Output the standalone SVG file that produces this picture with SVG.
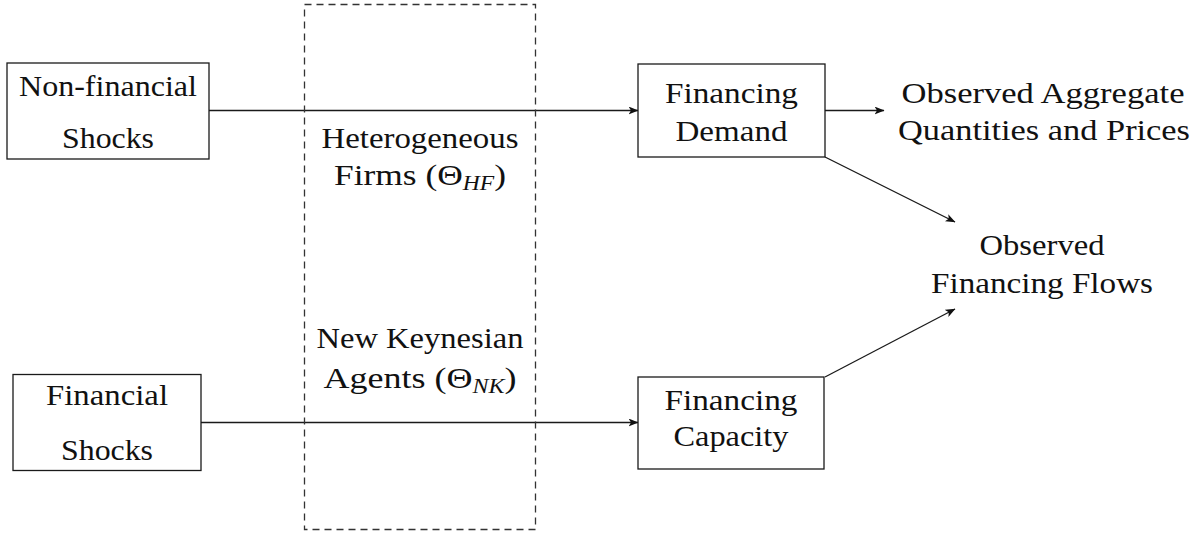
<svg xmlns="http://www.w3.org/2000/svg" width="1203" height="536" viewBox="0 0 1203 536">
<style>
.box{fill:#fff;stroke:#1a1a1a;stroke-width:1.3}
.t{font-family:'Liberation Serif','DejaVu Serif','Noto Serif',serif;font-size:30px;fill:#111;text-anchor:middle}
.sub{font-size:20px;font-style:italic}
.c{stroke:#1a1a1a;stroke-width:1.3;fill:none;marker-end:url(#ah)}
.dash{fill:none;stroke:#333;stroke-width:1.3;stroke-dasharray:7 5}
</style>
<defs>
<marker id="ah" viewBox="0 0 10 8" refX="9.5" refY="4" markerWidth="10" markerHeight="8" markerUnits="userSpaceOnUse" orient="auto">
<path d="M0,0 L10,4 L0,8 L2.5,4 Z" fill="#111"/>
</marker>
</defs>
<rect width="1203" height="536" fill="#fff"/>
<g id="connectors">
<line class="c" x1="209" y1="110.5" x2="638" y2="110.5"/>
<line class="c" x1="201" y1="422.5" x2="638" y2="422.5"/>
<line class="c" x1="825" y1="110.5" x2="884" y2="110.5"/>
<line class="c" x1="825" y1="157" x2="955" y2="222"/>
<line class="c" x1="825" y1="377" x2="955" y2="309"/>
</g>
<g id="model-box">
<rect class="dash" x="304.5" y="4.5" width="231" height="525"/>
</g>
<g font-family="Liberation Serif, DejaVu Serif, serif">
<g id="heterogeneous-firms">
<text class="t" x="420" y="148" textLength="197" lengthAdjust="spacingAndGlyphs">Heterogeneous</text>
<text class="t" x="420" y="185" textLength="172" lengthAdjust="spacingAndGlyphs">Firms (Θ<tspan class="sub" dy="5">HF</tspan><tspan dy="-5">)</tspan></text>
</g>
<g id="new-keynesian-agents">
<text class="t" x="420" y="348" textLength="207" lengthAdjust="spacingAndGlyphs">New Keynesian</text>
<text class="t" x="420" y="388" textLength="193" lengthAdjust="spacingAndGlyphs">Agents (Θ<tspan class="sub" dy="5">NK</tspan><tspan dy="-5">)</tspan></text>
</g>
<g id="non-financial-shocks">
<rect class="box" x="7" y="63" width="202" height="96"/>
<text class="t" x="108" y="96" textLength="178" lengthAdjust="spacingAndGlyphs">Non-financial</text>
<text class="t" x="108" y="148" textLength="92" lengthAdjust="spacingAndGlyphs">Shocks</text>
</g>
<g id="financial-shocks">
<rect class="box" x="13" y="374.5" width="188" height="96"/>
<text class="t" x="107" y="405" textLength="122" lengthAdjust="spacingAndGlyphs">Financial</text>
<text class="t" x="107" y="460" textLength="92" lengthAdjust="spacingAndGlyphs">Shocks</text>
</g>
<g id="financing-demand">
<rect class="box" x="638" y="64" width="187" height="93"/>
<text class="t" x="731.5" y="103" textLength="133" lengthAdjust="spacingAndGlyphs">Financing</text>
<text class="t" x="731.5" y="141" textLength="112" lengthAdjust="spacingAndGlyphs">Demand</text>
</g>
<g id="financing-capacity">
<rect class="box" x="638" y="377" width="186" height="92"/>
<text class="t" x="731" y="410" textLength="133" lengthAdjust="spacingAndGlyphs">Financing</text>
<text class="t" x="731" y="446" textLength="115" lengthAdjust="spacingAndGlyphs">Capacity</text>
</g>
<g id="observed-aggregate">
<text class="t" x="1043" y="103" textLength="283" lengthAdjust="spacingAndGlyphs">Observed Aggregate</text>
<text class="t" x="1044" y="140" textLength="292" lengthAdjust="spacingAndGlyphs">Quantities and Prices</text>
</g>
<g id="observed-financing-flows">
<text class="t" x="1042" y="255" textLength="125" lengthAdjust="spacingAndGlyphs">Observed</text>
<text class="t" x="1042" y="293" textLength="222" lengthAdjust="spacingAndGlyphs">Financing Flows</text>
</g>
</g>
</svg>
